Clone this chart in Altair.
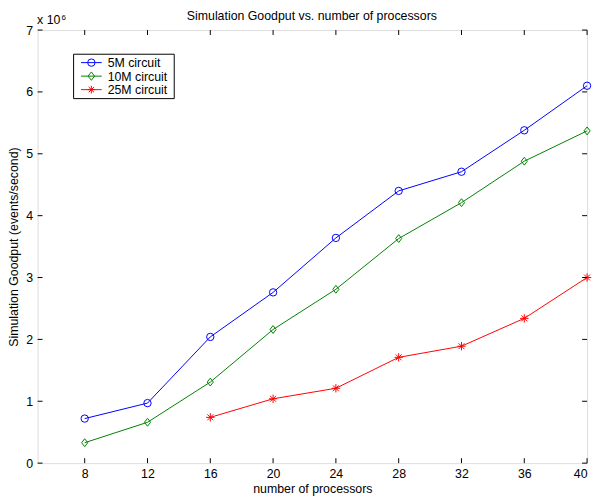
import altair as alt
import pandas as pd

# ---- data (values in units of 10^6 events/second) ----
procs = [8, 12, 16, 20, 24, 28, 32, 36, 40]
goodput_5m = [0.72, 0.97, 2.04, 2.76, 3.64, 4.40, 4.71, 5.38, 6.10]
goodput_10m = [0.33, 0.66, 1.31, 2.16, 2.81, 3.63, 4.21, 4.88, 5.37]
procs_25m = [16, 20, 24, 28, 32, 36, 40]
goodput_25m = [0.74, 1.04, 1.21, 1.71, 1.89, 2.34, 3.00]

series_names = ["5M circuit", "10M circuit", "25M circuit"]
series_colors = ["#0000ff", "#008000", "#ff0000"]

x_ticks = [8, 12, 16, 20, 24, 28, 32, 36, 40]
y_ticks = [0, 1, 2, 3, 4, 5, 6, 7]

title_text = "Simulation Goodput vs. number of processors"
x_title = "number of processors"
y_title = "Simulation Goodput (events/second)"

# ---- styling ----
FONT = "Liberation Sans"
FS = 12.5
W, H = 557, 439
DIAMOND = "M0,-1L0.78,0L0,1L-0.78,0Z"
ASTERISK = "M0,-1L0,1M-1,0L1,0M-0.7,-0.7L0.7,0.7M-0.7,0.7L0.7,-0.7"
shapes = ["circle", DIAMOND, ASTERISK]
sizes = [56, 72, 60]

rows = []
for p, v in zip(procs, goodput_5m):
    rows.append({"procs": p, "goodput": v, "series": series_names[0]})
for p, v in zip(procs, goodput_10m):
    rows.append({"procs": p, "goodput": v, "series": series_names[1]})
for p, v in zip(procs_25m, goodput_25m):
    rows.append({"procs": p, "goodput": v, "series": series_names[2]})
df = pd.DataFrame(rows)

xscale = alt.Scale(domain=[5, 40], nice=False, zero=False)
yscale = alt.Scale(domain=[0, 7], nice=False, zero=False)
cscale = alt.Scale(domain=series_names, range=series_colors)

x_enc = alt.X(
    "procs:Q", scale=xscale,
    axis=alt.Axis(values=x_ticks, ticks=False, domain=False, grid=False,
                  labelFont=FONT, labelFontSize=FS, labelColor="black",
                  labelPadding=5, title=x_title,
                  titleFont=FONT, titleFontSize=FS, titleFontWeight="normal",
                  titleColor="black", titlePadding=2),
)
y_enc = alt.Y(
    "goodput:Q", scale=yscale,
    axis=alt.Axis(values=y_ticks, format="d", ticks=False, domain=False, grid=False,
                  labelFont=FONT, labelFontSize=FS, labelColor="black",
                  labelPadding=5, title=y_title,
                  titleFont=FONT, titleFontSize=FS, titleFontWeight="normal",
                  titleColor="black", titlePadding=5),
)

base = alt.Chart(df)
lines = base.mark_line(strokeWidth=1).encode(
    x=x_enc, y=y_enc,
    color=alt.Color("series:N", scale=cscale, legend=None),
    detail="series:N",
    order="procs:Q",
)
points = base.mark_point(filled=False, strokeWidth=1, opacity=1).encode(
    x="procs:Q", y="goodput:Q",
    color=alt.Color("series:N", scale=cscale, legend=None),
    shape=alt.Shape("series:N", scale=alt.Scale(domain=series_names, range=shapes), legend=None),
    size=alt.Size("series:N", scale=alt.Scale(domain=series_names, range=sizes), legend=None),
)

# inward ticks on all four sides
xt = pd.DataFrame({"procs": x_ticks})
yt = pd.DataFrame({"goodput": y_ticks})
TL = 5
bottom_ticks = alt.Chart(xt).mark_rule(color="black", strokeWidth=1).encode(
    x="procs:Q", y=alt.value(H), y2=alt.value(H - TL))
top_ticks = alt.Chart(xt).mark_rule(color="black", strokeWidth=1).encode(
    x="procs:Q", y=alt.value(0), y2=alt.value(TL))
left_ticks = alt.Chart(yt).mark_rule(color="black", strokeWidth=1).encode(
    y="goodput:Q", x=alt.value(0), x2=alt.value(TL))
right_ticks = alt.Chart(yt).mark_rule(color="black", strokeWidth=1).encode(
    y="goodput:Q", x=alt.value(W), x2=alt.value(W - TL))

# chart title as a text mark (keeps it independent of marks drawn above the plot)
title_mark = alt.Chart(pd.DataFrame({"t": [title_text]})).mark_text(
    font=FONT, fontSize=FS, align="center", baseline="alphabetic", color="black"
).encode(text="t:N", x=alt.value(W / 2 - 0.5), y=alt.value(-9.7))

# exponent label
exp_base = alt.Chart(pd.DataFrame({"t": ["x 10"]})).mark_text(
    font=FONT, fontSize=FS, align="left", baseline="alphabetic", color="black"
).encode(text="t:N", x=alt.value(-0.5), y=alt.value(-6.3))
exp_sup = alt.Chart(pd.DataFrame({"t": ["6"]})).mark_text(
    font=FONT, fontSize=8, align="left", baseline="alphabetic", color="black"
).encode(text="t:N", x=alt.value(24.3), y=alt.value(-10.5))

# manual legend
legend_layers = [
    alt.Chart(pd.DataFrame({"a": [0]})).mark_rect(
        fill="white", stroke="black", strokeWidth=1
    ).encode(x=alt.value(36.5), x2=alt.value(138.5), y=alt.value(24.5), y2=alt.value(69.5))
]
for i, (name, col, shp, sz) in enumerate(zip(series_names, series_colors, shapes, sizes)):
    ly = 33 + 13.7 * i
    d = pd.DataFrame({"name": [name]})
    legend_layers.append(alt.Chart(d).mark_rule(color=col, strokeWidth=1).encode(
        x=alt.value(44), x2=alt.value(65), y=alt.value(ly)))
    legend_layers.append(alt.Chart(d).mark_point(
        shape=shp, size=sz, filled=False, color=col, strokeWidth=1, opacity=1
    ).encode(x=alt.value(54.5), y=alt.value(ly)))
    legend_layers.append(alt.Chart(d).mark_text(
        font=FONT, fontSize=FS, align="left", baseline="middle", color="black"
    ).encode(text="name:N", x=alt.value(71), y=alt.value(ly + 0.5)))

chart = alt.layer(
    lines, points, bottom_ticks, top_ticks, left_ticks, right_ticks,
    title_mark, exp_base, exp_sup, *legend_layers
).properties(
    width=W, height=H,
    autosize=alt.AutoSizeParams(type="none"),
    padding={"left": 30, "top": 19, "right": 5, "bottom": 33},
).configure_view(stroke="black", strokeWidth=1).configure(background="white")

chart.save("out.html", embed_options={"renderer": "svg", "actions": False})
